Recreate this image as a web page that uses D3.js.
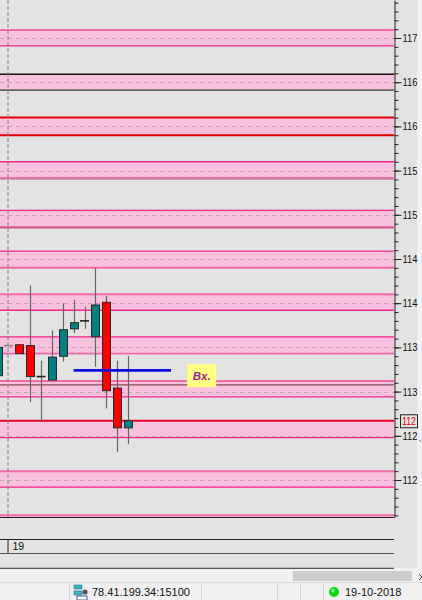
<!DOCTYPE html>
<head>
  <meta charset="utf-8">
  <script src="https://d3js.org/d3.v7.min.js"></script>
</head>
<body>
  <div id="chart"></div>

  <script>
    // ---- data ----
    // candles, index 0 = first bar of day "19"
    var barIndex = [-1, 0, 1, 2, 3, 4, 5, 6, 7, 8, 9, 10, 11];
    var openPx  = [113.18, 113.52, 113.53, 113.52, 113.17, 113.13, 113.40, 113.71, 113.80, 113.62, 114.01, 113.04, 112.59];
    var highPx  = [113.50, 113.52, 113.53, 114.20, 113.35, 113.69, 114.00, 114.04, 113.96, 114.40, 114.08, 113.35, 113.40];
    var lowPx   = [113.18, 113.52, 113.43, 112.88, 112.66, 113.13, 113.34, 113.66, 113.71, 113.28, 112.81, 112.32, 112.41];
    var closePx = [113.50, 113.52, 113.43, 113.17, 113.17, 113.39, 113.70, 113.78, 113.80, 113.98, 113.01, 112.59, 112.67];

    // supply / demand zones
    var zoneTop    = [117.09, 116.59, 116.10, 115.60, 115.05, 114.59, 114.10, 113.62, 113.12, 112.67, 112.10, 111.60];
    var zoneBottom = [116.91, 116.41, 115.90, 115.42, 114.86, 114.40, 113.92, 113.43, 112.94, 112.48, 111.92, 111.45];
    var zoneMid    = [117.0, 116.5, 116.0, 115.5, 115.0, 114.5, 114.0, 113.5, 113.0, 112.5, 112.0, 111.5];
    var extraLevels = [115.405, 114.851, 113.075];

    // price axis
    var tickValues = [117, 116.5, 116, 115.5, 115, 114.5, 114, 113.5, 113, 112.5, 112];
    var tickLabels = ["117", "116", "116", "115", "115", "114", "114", "113", "113", "112", "112"];
    var lastPrice = 112.67;
    var lastLabel = "112";

    // annotation line + label
    var markLevel = 113.24;
    var markFrom = 6, markTo = 14.96;
    var boxLevel = 113.18, boxFrom = 16.45;
    var boxText = "Bx.";

    var dayLabel = "19";
    var serverText = "78.41.199.34:15100";
    var dateText = "19-10-2018";

    // ---- styles for the zone edges (top, bottom) ----
    var edgeStyle = [
      ["#f06aa8", 2, "#f0288a", 1.2],
      ["#111", 1.3, "#666", 1.6],
      ["#e00000", 2, "#e00000", 2],
      ["#f0288a", 1.3, "#f06aa8", 1.5],
      ["#f0288a", 1.3, "#f0288a", 1.3],
      ["#f0288a", 1.3, "#f06aa8", 2],
      ["#f06aa8", 2, "#f0288a", 1.3],
      ["#f0288a", 1.3, "#f06aa8", 1.6],
      ["#f06aa8", 2, "#f0288a", 1.3],
      ["#e8002a", 2, "#f0288a", 1.3],
      ["#f06aa8", 2, "#f0288a", 1.3],
      ["#f06aa8", 2, "#f0288a", 1.3]
    ];
    var extraColor = ["#b05a80", "#b05a80", "#8a4a5a"];

    var width = 422, height = 600;
    var plotW = 394, plotH = 517;

    var svg = d3.select('#chart')
      .append('svg')
        .attr("width", width)
        .attr("height", height)
        .style("display", "block");

    svg.append("rect").attr("width", width).attr("height", height).attr("fill", "#f0f0f0");
    svg.append("rect").attr("width", 417).attr("height", 568).attr("fill", "#e3e3e3");
    // right scroll strip
    svg.append("rect").attr("x", 418).attr("y", 0).attr("width", 4).attr("height", 436).attr("fill", "#f2f2f2");
    svg.append("path").attr("d", "M419,440 l2,2").attr("stroke", "#777");

    var y = d3.scaleLinear().domain([112, 117]).range([480, 38]);
    var x = d3.scaleLinear().domain([0, 11]).range([8.5, 128]);

    svg.append("clipPath").attr("id", "plotclip")
      .append("rect").attr("width", plotW).attr("height", plotH);

    var plot = svg.append("g").attr("clip-path", "url(#plotclip)");

    // zones
    var zones = zoneTop.map(function(t, i) {
      return {top: t, bottom: zoneBottom[i], mid: zoneMid[i], st: edgeStyle[i]};
    });

    plot.append("g").selectAll("rect")
      .data(zones)
      .join("rect")
        .attr("x", 0)
        .attr("width", plotW)
        .attr("y", d => y(d.top))
        .attr("height", d => y(d.bottom) - y(d.top))
        .attr("fill", "#f8c1dd");

    plot.append("g").selectAll("line")
      .data(zones)
      .join("line")
        .attr("x1", 0).attr("x2", plotW)
        .attr("y1", d => Math.round(y(d.mid)) + 0.5)
        .attr("y2", d => Math.round(y(d.mid)) + 0.5)
        .attr("stroke", "#cf9fb9")
        .attr("stroke-dasharray", "4,4");

    var edges = plot.append("g");
    zones.forEach(function(d) {
      edges.append("line")
        .attr("x1", 0).attr("x2", plotW)
        .attr("y1", y(d.top)).attr("y2", y(d.top))
        .attr("stroke", d.st[0]).attr("stroke-width", d.st[1]);
      edges.append("line")
        .attr("x1", 0).attr("x2", plotW)
        .attr("y1", y(d.bottom)).attr("y2", y(d.bottom))
        .attr("stroke", d.st[2]).attr("stroke-width", d.st[3]);
    });

    plot.append("g").selectAll("line")
      .data(extraLevels)
      .join("line")
        .attr("x1", 0).attr("x2", plotW)
        .attr("y1", d => y(d)).attr("y2", d => y(d))
        .attr("stroke", (d, i) => extraColor[i])
        .attr("stroke-width", 1.2);

    // day separator
    plot.append("line")
      .attr("x1", x(0) - 0.5).attr("x2", x(0) - 0.5)
      .attr("y1", 0).attr("y2", plotH)
      .attr("stroke", "#808080")
      .attr("stroke-dasharray", "4,2");

    // candles
    var candles = barIndex.map(function(b, i) {
      return {i: b, o: openPx[i], h: highPx[i], l: lowPx[i], c: closePx[i]};
    });

    var cg = plot.append("g");
    cg.selectAll("line.wick")
      .data(candles.filter(d => d.h > d.l))
      .join("line")
        .attr("class", "wick")
        .attr("x1", d => Math.round(x(d.i)) + 0.5)
        .attr("x2", d => Math.round(x(d.i)) + 0.5)
        .attr("y1", d => y(d.h))
        .attr("y2", d => y(d.l))
        .attr("stroke", "#666")
        .attr("stroke-width", 1.2);

    cg.selectAll("rect.body")
      .data(candles.filter(d => d.o != d.c))
      .join("rect")
        .attr("class", "body")
        .attr("x", d => Math.round(x(d.i)) - 3.5)
        .attr("width", 8)
        .attr("y", d => y(Math.max(d.o, d.c)))
        .attr("height", d => Math.abs(y(d.o) - y(d.c)))
        .attr("fill", d => d.c > d.o ? "#008080" : "#ff0000")
        .attr("stroke", "#2a2a2a")
        .attr("stroke-width", 1);

    cg.selectAll("line.doji")
      .data(candles.filter(d => d.o == d.c))
      .join("line")
        .attr("class", "doji")
        .attr("x1", d => x(d.i) - 4.5)
        .attr("x2", d => x(d.i) + 4.5)
        .attr("y1", d => y(d.o))
        .attr("y2", d => y(d.o))
        .attr("stroke", (d, i) => i == 0 ? "#888" : "#222")
        .attr("stroke-width", 1.6);

    // blue level + label
    plot.append("line")
      .attr("x1", x(markFrom)).attr("x2", x(markTo))
      .attr("y1", y(markLevel)).attr("y2", y(markLevel))
      .attr("stroke", "#0a0ae6")
      .attr("stroke-width", 2.6);

    var bx = plot.append("g").attr("transform", "translate(" + x(boxFrom) + "," + (y(boxLevel) - 11.5) + ")");
    bx.append("rect").attr("width", 29).attr("height", 23).attr("fill", "#ffff80");
    bx.append("text")
      .attr("x", 14.5).attr("y", 16)
      .attr("text-anchor", "middle")
      .attr("font-family", "Liberation Sans, Arial, sans-serif")
      .attr("font-size", 11.5)
      .attr("font-weight", "bold")
      .attr("font-style", "italic")
      .attr("fill", "#9b1c9b")
      .text(boxText);

    // plot frame bottom
    svg.append("line").attr("x1", 0).attr("x2", plotW + 0.5)
      .attr("y1", plotH + 0.5).attr("y2", plotH + 0.5).attr("stroke", "#222");

    // right price axis
    var yAxisScale = y.copy().domain([y.invert(plotH), y.invert(0)]).range([plotH, 0]);
    var minorTicks = d3.range(1116, 1175).map(d => d / 10);

    svg.append("g")
      .attr("transform", "translate(" + (plotW + 0.5) + ",0)")
      .call(d3.axisRight(yAxisScale).tickValues(minorTicks).tickSize(4).tickSizeOuter(0).tickFormat(""))
      .call(g => g.selectAll("line").attr("stroke", "#222"))
      .call(g => g.select(".domain").attr("stroke", "#222"));

    svg.append("g")
      .attr("transform", "translate(" + (plotW + 0.5) + ",0)")
      .call(d3.axisRight(yAxisScale).tickValues(tickValues).tickSize(7).tickSizeOuter(0)
        .tickFormat((d, i) => tickLabels[i]))
      .call(g => g.select(".domain").remove())
      .call(g => g.selectAll("line").attr("stroke", "#222"))
      .call(g => g.selectAll("text")
        .attr("x", 8)
        .attr("fill", "#111")
        .attr("font-family", "Liberation Sans, Arial, sans-serif")
        .attr("font-size", 11)
        .attr("textLength", 15)
        .attr("lengthAdjust", "spacingAndGlyphs"));

    // last price tag
    var tag = svg.append("g").attr("transform", "translate(400," + (y(lastPrice) - 6.5) + ")");
    tag.append("rect").attr("x", 0.5).attr("y", 0.5).attr("width", 17).attr("height", 13)
      .attr("fill", "#e3e3e3").attr("stroke", "#222");
    tag.append("text").attr("x", 2).attr("y", 10.5)
      .attr("font-family", "Liberation Sans, Arial, sans-serif")
      .attr("font-size", 11).attr("fill", "#e00000")
      .attr("textLength", 14).attr("lengthAdjust", "spacingAndGlyphs")
      .text(lastLabel);

    // time axis rows
    [539, 553, 568].forEach(function(ly, i) {
      svg.append("line").attr("x1", 0).attr("x2", plotW)
        .attr("y1", ly + 0.5).attr("y2", ly + 0.5)
        .attr("stroke", i == 0 ? "#222" : "#555").attr("stroke-width", i == 2 ? 1.5 : 1);
    });
    svg.append("line").attr("x1", x(0) - 0.5).attr("x2", x(0) - 0.5)
      .attr("y1", 539).attr("y2", 553).attr("stroke", "#222");
    svg.append("text").attr("x", x(0) + 4).attr("y", 550)
      .attr("font-family", "Liberation Sans, Arial, sans-serif")
      .attr("font-size", 10.5).attr("fill", "#111")
      .text(dayLabel);

    // horizontal scrollbar
    svg.append("rect").attr("x", 0).attr("y", 569).attr("width", 422).attr("height", 13).attr("fill", "#f0f0f0");
    svg.append("rect").attr("x", 293).attr("y", 571).attr("width", 119).attr("height", 10).attr("fill", "#cdcdcd");
    svg.append("path").attr("d", "M419,574 l3,3 M419,580 l3,-3").attr("stroke", "#444");

    // status bar
    svg.append("rect").attr("x", 0).attr("y", 582).attr("width", 422).attr("height", 18).attr("fill", "#f0f0f0");
    svg.append("line").attr("x1", 0).attr("x2", 422).attr("y1", 582.5).attr("y2", 582.5).attr("stroke", "#dcdcdc");
    [69, 201, 277, 300, 323].forEach(function(sx) {
      svg.append("line").attr("x1", sx + 0.5).attr("x2", sx + 0.5).attr("y1", 584).attr("y2", 600).attr("stroke", "#d6d6d6");
    });

    var icon = svg.append("g").attr("transform", "translate(74,585)");
    icon.append("rect").attr("x", 0).attr("y", 0).attr("width", 8).attr("height", 4).attr("fill", "#39b6c8").attr("stroke", "#2a6f8a").attr("stroke-width", 0.6);
    icon.append("rect").attr("x", 0).attr("y", 6).attr("width", 8).attr("height", 4).attr("fill", "#39b6c8").attr("stroke", "#2a6f8a").attr("stroke-width", 0.6);
    icon.append("rect").attr("x", 3).attr("y", 11).attr("width", 10).attr("height", 4).attr("fill", "#fff").attr("stroke", "#2233aa").attr("stroke-width", 0.8);
    icon.append("circle").attr("cx", 11).attr("cy", 7).attr("r", 2.6).attr("fill", "#555");

    svg.append("text").attr("x", 92).attr("y", 596)
      .attr("font-family", "Liberation Sans, Arial, sans-serif")
      .attr("font-size", 11).attr("fill", "#111")
      .text(serverText);

    svg.append("circle").attr("cx", 334).attr("cy", 592).attr("r", 5).attr("fill", "#10d810");
    svg.append("circle").attr("cx", 333).attr("cy", 590.5).attr("r", 2).attr("fill", "#7cf57c");
    svg.append("text").attr("x", 345).attr("y", 596)
      .attr("font-family", "Liberation Sans, Arial, sans-serif")
      .attr("font-size", 11).attr("fill", "#111")
      .text(dateText);
  </script>
</body>

<style>
  body { margin: 0; background: #f0f0f0; }
</style>
